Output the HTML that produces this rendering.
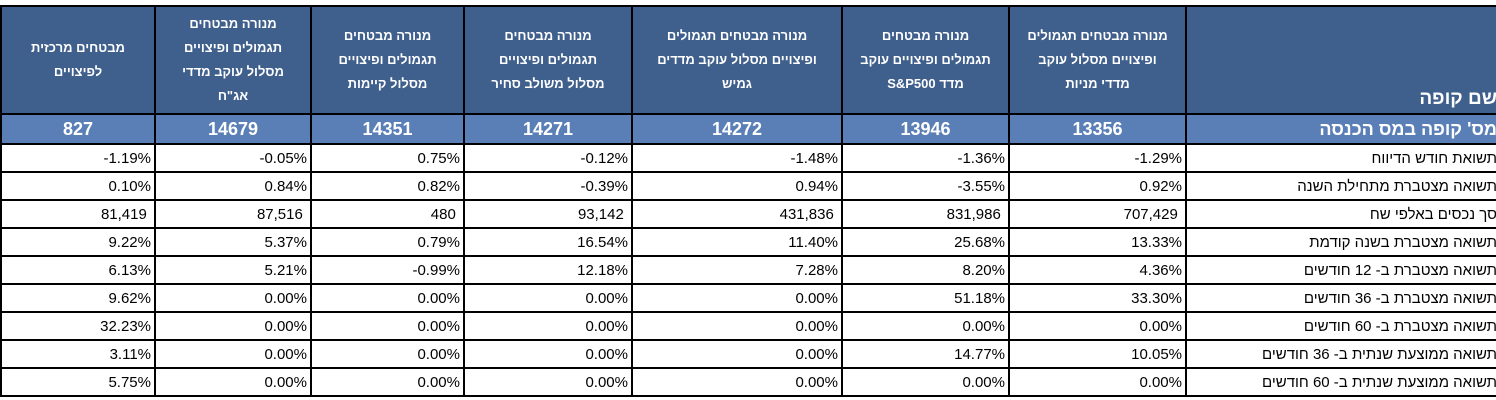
<!DOCTYPE html>
<html><head><meta charset="utf-8">
<style>
html,body{margin:0;padding:0;background:#fff;width:1496px;height:400px;overflow:hidden}
table{position:absolute;left:0;top:5px;border-collapse:collapse;table-layout:fixed;direction:rtl;width:1500px;font-family:"Liberation Sans","Noto Sans CJK SC",sans-serif}
td,th{border:2px solid #000;padding:0 3px;overflow:hidden;white-space:nowrap}
tr.hd th{background:#3f5f8d;color:#fff;font-size:13px;font-weight:bold;line-height:24px;height:104px;white-space:normal;text-align:center;vertical-align:middle;padding:0 14px}
tr.hd th.first{text-align:right;vertical-align:bottom;font-size:19px;padding:0 3px 2px 3px}
tr.id td{background:#5a7fb7;color:#fff;font-weight:bold;font-size:18px;height:28px;text-align:center}
tr.id td.first{text-align:right}
tr.dt td{height:26px;font-size:15px;color:#000;text-align:right}
tr.dt td.num{direction:ltr;text-align:right}
</style></head><body>
<table>
<colgroup><col style="width:315px"><col style="width:177px"><col style="width:167px"><col style="width:210px"><col style="width:168px"><col style="width:153px"><col style="width:156px"><col style="width:154px"></colgroup>
<tr class="hd">
<th class="first">שם קופה</th>
<th>מנורה מבטחים תגמולים ופיצויים מסלול עוקב מדדי מניות</th>
<th>מנורה מבטחים תגמולים ופיצויים עוקב מדד S&amp;P500</th>
<th>מנורה מבטחים תגמולים ופיצויים מסלול עוקב מדדים גמיש</th>
<th>מנורה מבטחים תגמולים ופיצויים מסלול משולב סחיר</th>
<th>מנורה מבטחים תגמולים ופיצויים מסלול קיימות</th>
<th>מנורה מבטחים תגמולים ופיצויים מסלול עוקב מדדי אג"ח</th>
<th>מבטחים מרכזית לפיצויים</th>
</tr>
<tr class="id">
<td class="first">מס' קופה במס הכנסה</td>
<td>13356</td><td>13946</td><td>14272</td><td>14271</td><td>14351</td><td>14679</td><td>827</td>
</tr>
<tbody id="body"></tbody>
</table>
<script>
const labels=["תשואת חודש הדיווח","תשואה מצטברת מתחילת השנה","סך נכסים באלפי שח","תשואה מצטברת בשנה קודמת","תשואה מצטברת ב- 12 חודשים","תשואה מצטברת ב- 36 חודשים","תשואה מצטברת ב- 60 חודשים","תשואה ממוצעת שנתית ב- 36 חודשים","תשואה ממוצעת שנתית ב- 60 חודשים"];
const r1=["-1.29%","-1.36%","-1.48%","-0.12%","0.75%","-0.05%","-1.19%"];
const r2=["0.92%","-3.55%","0.94%","-0.39%","0.82%","0.84%","0.10%"];
const r3=["707,429 ","831,986 ","431,836 ","93,142 ","480 ","87,516 ","81,419 "];
const r4=["13.33%","25.68%","11.40%","16.54%","0.79%","5.37%","9.22%"];
const r5=["4.36%","8.20%","7.28%","12.18%","-0.99%","5.21%","6.13%"];
const r6=["33.30%","51.18%","0.00%","0.00%","0.00%","0.00%","9.62%"];
const r7=["0.00%","0.00%","0.00%","0.00%","0.00%","0.00%","32.23%"];
const r8=["10.05%","14.77%","0.00%","0.00%","0.00%","0.00%","3.11%"];
const r9=["0.00%","0.00%","0.00%","0.00%","0.00%","0.00%","5.75%"];
const rows=[r1,r2,r3,r4,r5,r6,r7,r8,r9];
const body=document.getElementById('body');
rows.forEach((r,i)=>{
  const tr=document.createElement('tr');tr.className='dt';
  
  
  const l=document.createElement('td');l.textContent=labels[i];
  
  
  tr.appendChild(l);
  r.forEach(v=>{const td=document.createElement('td');td.className='num';td.textContent=v;td.style.whiteSpace='pre';
    
    
    tr.appendChild(td);});
  body.appendChild(tr);
});
</script>
</body></html>
